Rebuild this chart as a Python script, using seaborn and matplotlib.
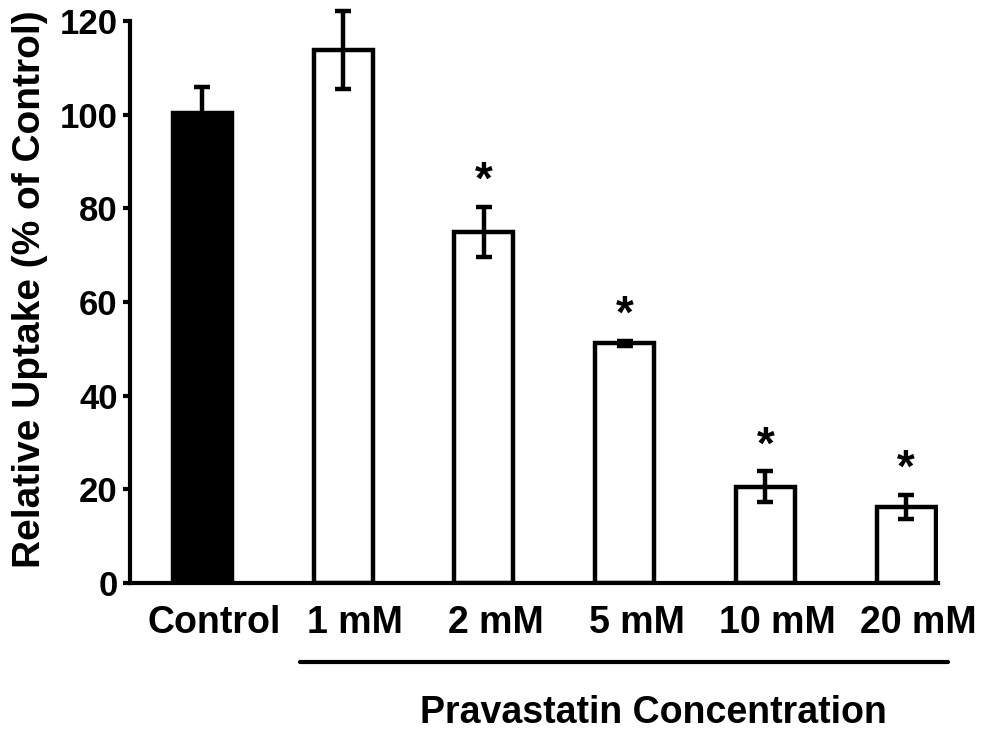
import matplotlib
matplotlib.use("Agg")
import matplotlib.pyplot as plt
import matplotlib.transforms as mtransforms
import seaborn as sns
import numpy as np
import pandas as pd
from matplotlib.lines import Line2D

categories = ["Control", "1 mM", "2 mM", "5 mM", "10 mM", "20 mM"]
means = [100.4, 113.8, 75.0, 51.2, 20.6, 16.2]
errors = [5.5, 8.4, 5.3, 0.5, 3.3, 2.6]
significant = [False, False, True, True, True, True]
y_ticks = [0, 20, 40, 60, 80, 100, 120]
fill_colors = ["black", "white", "white", "white", "white", "white"]

sns.set_theme(style="white")
plt.rcParams["font.family"] = ["Liberation Sans", "DejaVu Sans"]
plt.rcParams["font.weight"] = "bold"

df = pd.DataFrame({"cond": categories, "value": means})

fig = plt.figure(figsize=(9.86, 7.31), dpi=100)
ax = fig.add_axes([130 / 986, 1 - 583 / 731, (938 - 130) / 986, (583 - 21) / 731])

sns.barplot(data=df, x="cond", y="value", hue="cond", palette=fill_colors,
            order=categories, hue_order=categories, legend=False,
            width=0.42, edgecolor="black", linewidth=3.2, errorbar=None,
            saturation=1, ax=ax)

pos = np.arange(len(categories))
ax.errorbar(pos, means, yerr=errors, fmt="none", ecolor="black",
            elinewidth=3.2, capsize=5.5, capthick=3.2, zorder=5, clip_on=False)

for p, m, e, s in zip(pos, means, errors, significant):
    if s:
        ax.text(p, m + e + 5.3, "*", ha="center", va="center",
                fontsize=33, fontweight="bold", color="black")

ax.set_xlim(-0.515, 5.227)
ax.set_ylim(0, 120)
ax.set_yticks(y_ticks)
ax.set_yticklabels([str(t) for t in y_ticks])
for side in ["top", "right"]:
    ax.spines[side].set_visible(False)
for side in ["left", "bottom"]:
    ax.spines[side].set_linewidth(3)
    ax.spines[side].set_color("black")
ax.tick_params(axis="y", which="major", direction="out", length=5, width=3,
               color="black", labelsize=25, pad=4, left=True)
ax.tick_params(axis="x", length=0, labelsize=27, pad=16)
shift = mtransforms.ScaledTranslation(12 / 100, 0, fig.dpi_scale_trans)
for lab in ax.get_xticklabels():
    lab.set_transform(lab.get_transform() + shift)
for lab in ax.get_xticklabels() + ax.get_yticklabels():
    lab.set_fontweight("bold")
    lab.set_color("black")
ax.set_xlabel("")
ax.set_ylabel("Relative Uptake (% of Control)", fontsize=28,
              fontweight="bold", color="black")
ax.yaxis.label.set_verticalalignment("center")
ax.yaxis.set_label_coords((30 - 130) / 808, (583 - 289) / 562)

fig.add_artist(Line2D([300 / 986, 948 / 986], [1 - 662 / 731, 1 - 662 / 731],
                      color="black", linewidth=3, transform=fig.transFigure))
fig.text(653 / 986, 1 - 713 / 731, "Pravastatin Concentration", ha="center",
         va="center", fontsize=27, fontweight="bold", color="black")

fig.savefig("out.png", dpi=100, facecolor="white")
